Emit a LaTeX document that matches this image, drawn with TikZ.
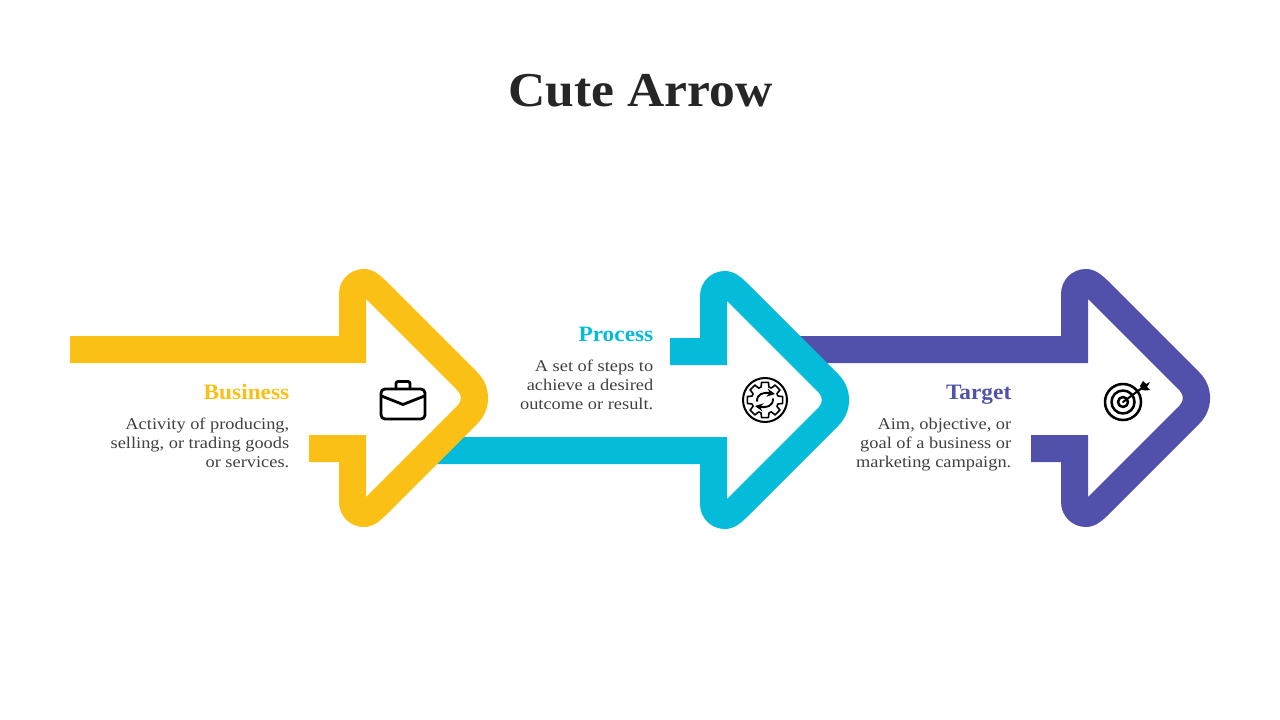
\documentclass[tikz,border=0pt]{standalone}
\usepackage{fontspec}
\usetikzlibrary{arrows.meta}
\setmainfont{Liberation Serif}
\newfontfamily\bodyfont[FakeStretch=1.12]{Liberation Serif}
\newfontfamily\headfont[FakeStretch=1.06]{Liberation Serif}
\definecolor{cyel}{HTML}{FBC015}
\definecolor{ctea}{HTML}{04BBDA}
\definecolor{cpur}{HTML}{5151AB}
\definecolor{ctxt}{HTML}{262626}
\definecolor{cbody}{HTML}{404040}
% #1 colour, #2/#3 left end of the upper bar (top/bottom edge), #4/#5 left end of the lower bar (bottom/top edge)
\newcommand{\cutearrow}[5]{%
  \fill[#1] (#2,336) -- (339,336) -- (339,294)
    .. controls (339,280) and (350,269) .. (364,269)
    .. controls (372,269) and (379,274) .. (385,280)
    -- (477.5,372.5)
    .. controls (491.6,386.6) and (491.6,409.4) .. (477.5,423.5)
    -- (385,516)
    .. controls (379,522) and (372,527) .. (364,527)
    .. controls (350,527) and (339,516) .. (339,502)
    -- (339,462) -- (#4,462) -- (#5,435) -- (366,435) -- (366,497)
    -- (457.9,405.1)
    .. controls (461.8,401.2) and (461.8,394.8) .. (457.9,390.9)
    -- (366,299) -- (366,363) -- (#3,363) -- cycle;}
\tikzset{
  titletext/.style={font=\headfont\bfseries\fontsize{36.5}{44}\selectfont,text=ctxt,inner sep=0pt},
  headtext/.style={font=\headfont\bfseries\fontsize{16.5}{18}\selectfont,inner sep=0pt,anchor=base east},
  bodytext/.style={font=\bodyfont\fontsize{12.3}{14.25}\selectfont,text=cbody,inner sep=0pt,anchor=north east,align=right},
  iconline/.style={draw=black,line width=1.6pt,line cap=round,line join=round}
}
\begin{document}
\begin{tikzpicture}[x=0.75pt,y=-0.75pt]
\useasboundingbox (0,0) rectangle (1280,720);
\begin{scope}[shift={(722,0)}]\cutearrow{cpur}{58}{83}{309}{309}\end{scope}
\begin{scope}[shift={(361,2)}]\cutearrow{ctea}{309}{309}{57}{84}\end{scope}
\cutearrow{cyel}{70}{70}{309}{309}

\node[titletext,anchor=base] (title) at (640.5,107) {Cute Arrow};

\node[headtext,text=cyel] (h1) at (289.5,399.5) {Business};
\node[bodytext] (b1) at (289.5,418) {Activity of producing,\\selling, or trading goods\\or services.};
\node[headtext,text=ctea] (h2) at (653.5,341) {Process};
\node[bodytext] (b2) at (653.5,360) {A set of steps to\\achieve a desired\\outcome or result.};
\node[headtext,text=cpur] (h3) at (1011.5,399.5) {Target};
\node[bodytext] (b3) at (1011.5,418) {Aim, objective, or\\goal of a business or\\marketing campaign.};

% briefcase
\draw[iconline,line width=2.1pt,rounded corners=3pt] (381,389) rectangle (425,419);
\draw[iconline,line width=2.1pt,rounded corners=1.5pt] (396,388) -- (396,381.5) -- (410,381.5) -- (410,388);
\draw[iconline,line width=2.1pt] (381.5,396) -- (403,404.5) -- (424.5,396);

% gear
\begin{scope}[shift={(765,400)}]
\draw[iconline,line width=1.5pt] (0,0) circle (22);
\draw[iconline,line width=1.2pt]
  \foreach \a in {0,45,...,315}{
    (\a-17:13.5) -- (\a-11:18) -- (\a+11:18) -- (\a+17:13.5) -- (\a+28:13.5)
  };
\draw[iconline,line width=1.4pt,-{Stealth[length=6pt,width=6pt]}] (-8,1) .. controls (-8,-6) and (-2,-8) .. (10,-6);
\draw[iconline,line width=1.4pt,-{Stealth[length=6pt,width=6pt]}] (8,-1) .. controls (8,6) and (2,8) .. (-10,6);
\end{scope}

% target
\begin{scope}[shift={(1123,402)}]
\draw[iconline,line width=1.9pt] (0,0) circle (18);
\draw[iconline,line width=1.9pt] (0,0) circle (11.5);
\draw[iconline,line width=1.9pt] (0,0) circle (5);
\draw[iconline,line width=1.5pt] (0,0) -- (19,-14);
\fill[black] (17,-16) -- (20,-21) -- (23,-18) -- (27,-20) -- (24,-15) -- (27,-12) -- (22,-11.5) -- (19,-12) -- cycle;
\end{scope}
\end{tikzpicture}
\end{document}
